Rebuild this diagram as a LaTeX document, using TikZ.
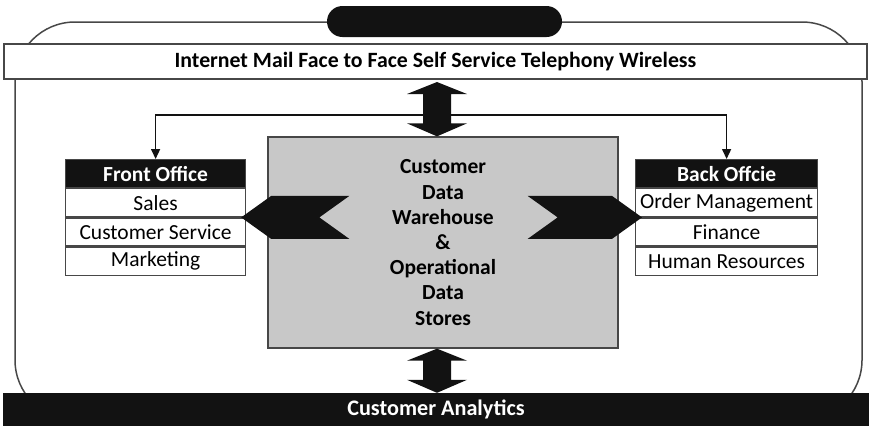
\documentclass[tikz,border=0pt]{standalone}
\usepackage{fontspec}
\setmainfont{Carlito}
\usetikzlibrary{calc,positioning,arrows.meta}
\definecolor{ink}{HTML}{121212}
\definecolor{storegray}{HTML}{C8C8C8}
\definecolor{rule}{HTML}{474747}

% thick vertical double-headed block arrow between two points (top, bottom)
\newcommand\blockdarrow[2]{%
  \fill[ink] let \p1=(#1), \p2=(#2) in
    (\x1,\y1) -- (\x1+30pt,\y1-12pt) -- (\x1+14pt,\y1-12pt) --
    (\x1+14pt,\y2+13pt) -- (\x1+30pt,\y2+13pt) -- (\x1,\y2) --
    (\x1-30pt,\y2+13pt) -- (\x1-14pt,\y2+13pt) -- (\x1-14pt,\y1-12pt) --
    (\x1-30pt,\y1-12pt) -- cycle;}
% pointed block arrow with a notched tail (tip, tail centre)
\newcommand\blockchevron[2]{%
  \fill[ink] (#1) -- ($(#1)!30pt!(#2)+(0,-21.5)$) -- ($(#2)+(0,-21.5)$) --
    ($(#2)!30pt!(#1)$) -- ($(#2)+(0,21.5)$) -- ($(#1)!30pt!(#2)+(0,21.5)$) -- cycle;}

\begin{document}
\begin{tikzpicture}[x=1pt,y=-1pt,
  frame/.style={draw=rule, line width=1.5pt, rounded corners=60pt},
  chanbar/.style={draw=rule, line width=1.3pt, fill=white, inner sep=0pt,
    minimum width=863pt, minimum height=35pt,
    font=\bfseries\fontsize{21.8}{24}\selectfont},
  darkbar/.style={fill=ink, text=white, inner sep=0pt,
    minimum width=866pt, minimum height=33pt,
    font=\bfseries\fontsize{22.2}{24}\selectfont},
  storebox/.style={fill=storegray, draw=rule, line width=1.3pt, inner sep=0pt,
    minimum width=350pt, minimum height=211pt, align=center,
    font=\bfseries\fontsize{21.5}{25.2}\selectfont},
  hdr/.style={fill=ink, draw=rule, text=white, line width=1.2pt, inner sep=0pt,
    minimum width=#1, minimum height=28pt,
    font=\bfseries\fontsize{21.5}{24}\selectfont},
  item/.style={fill=white, draw=rule, line width=1.2pt, inner sep=0pt,
    minimum width=#1, minimum height=28pt,
    font=\fontsize{21.5}{24}\selectfont},
  conn/.style={draw=ink, line width=1.5pt, -{Triangle[length=10pt,width=9pt]}}
]
\useasboundingbox (0,0) rectangle (869,426);

% outer rounded frame
\draw[frame] (15,22) rectangle (862,420);

% channel bar, title pill and analytics bar
\node[chanbar] (chan) at (435.5,61.5) {Internet Mail Face to Face Self Service Telephony Wireless};
\fill[ink, rounded corners=15.5pt] (327,6) rectangle (562,37);
\node (pill) at (444.5,21.5) {};
\node[darkbar] (ana) at (436,409.5) {Customer Analytics};

% central data store
\node[storebox] (dw) at (443,242.5) {Customer\\Data\\Warehouse\\\&\\Operational\\Data\\Stores};

% front office
\node[hdr=180pt, anchor=north west] (fo) at (65,159) {Front Office};
\node[item=180pt, below=0pt of fo] (fo1) {Sales};
\node[item=180pt, below=0pt of fo1] (fo2) {Customer Service};
\node[item=180pt, below=0pt of fo2] (fo3) {Marketing};

% back office
\node[hdr=182pt, anchor=north west] (bo) at (635,159) {Back Offcie};
\node[item=182pt, below=0pt of bo] (bo1) {Order Management};
\node[item=182pt, below=0pt of bo1] (bo2) {Finance};
\node[item=182pt, below=0pt of bo2] (bo3) {Human Resources};

% branch lines from the channel arrow to both offices
\coordinate (ua) at (437,82);
\coordinate (hub) at (437,115);
\draw[conn] (hub) -| (fo.north);
\draw[conn] (hub) -| (bo.north);

% double arrows: channels <-> store, store <-> analytics
\coordinate (ub) at (dw.north -| ua);
\coordinate (la) at (dw.south -| ua);
\coordinate (lb) at (ana.north -| ua);
\blockdarrow{ua}{ub}
\blockdarrow{la}{lb}

% block arrows from the store to the offices
\coordinate (ltip) at ($(fo1.south east)+(-5,0)$);
\coordinate (ltail) at ($(dw.west |- ltip)+(82,0)$);
\coordinate (rtip) at ($(bo1.south west)+(7,0)$);
\coordinate (rtail) at ($(dw.east |- rtip)+(-91,0)$);
\blockchevron{ltip}{ltail}
\blockchevron{rtip}{rtail}
\end{tikzpicture}
\end{document}
